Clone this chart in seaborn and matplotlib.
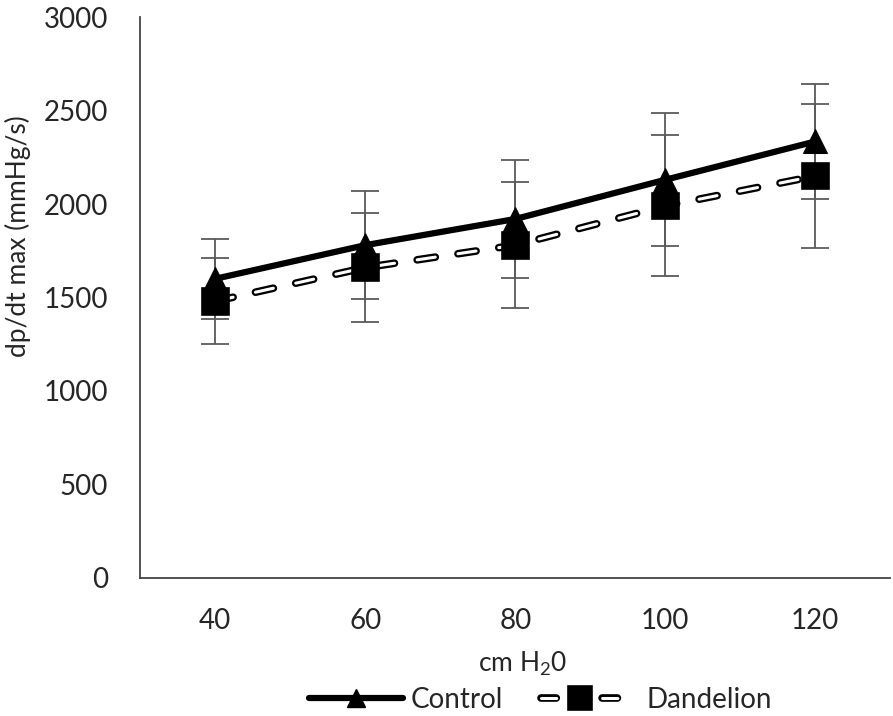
import numpy as np
import pandas as pd
import matplotlib
matplotlib.use("Agg")
import matplotlib.pyplot as plt
import matplotlib.patheffects as pe
from matplotlib.lines import Line2D
import seaborn as sns

# values
pressure = ["40", "60", "80", "100", "120"]
control = [1600, 1780, 1920, 2130, 2335]
control_err = [215, 290, 315, 355, 308]
dandelion = [1480, 1660, 1780, 1990, 2150]
dandelion_err = [230, 290, 337, 377, 385]

df = pd.DataFrame({"pressure": pressure * 2,
                   "value": control + dandelion,
                   "group": ["Control"] * 5 + ["Dandelion"] * 5})

sns.set_theme(style="white")
plt.rcParams['font.family'] = ['Lato', 'DejaVu Sans']

fig = plt.figure(figsize=(8.93, 7.16), dpi=100)
ax = fig.add_axes([0.157, 0.193, 0.84, 0.783])

# error bars first so markers sit on top
ax.errorbar(pressure, control, yerr=control_err, fmt="none", ecolor="#5a5a5a",
            elinewidth=1.3, capsize=10, capthick=1.3, zorder=1)
ax.errorbar(pressure, dandelion, yerr=dandelion_err, fmt="none", ecolor="#5a5a5a",
            elinewidth=1.3, capsize=10, capthick=1.3, zorder=1)

sns.lineplot(data=df[df.group == "Control"], x="pressure", y="value", ax=ax,
             color="black", linewidth=4.5, marker="^", markersize=17,
             markeredgecolor="black", zorder=3, sort=False)
sns.lineplot(data=df[df.group == "Dandelion"], x="pressure", y="value", ax=ax,
             color="white", linewidth=2.2, marker="s", markersize=15,
             markerfacecolor="black", markeredgecolor="black",
             dashes=False, zorder=2, sort=False)
dl = ax.lines[-1]
dl.set_linestyle((0, (6, 7.5)))
dl.set_dash_capstyle("round")
dl.set_path_effects([pe.Stroke(linewidth=5.5, foreground="black"), pe.Normal()])

ax.set_ylim(0, 3000)
ax.set_xlim(-0.5, 4.5)
ax.set_yticks([0, 500, 1000, 1500, 2000, 2500, 3000])
ax.tick_params(axis="y", labelsize=20, length=0, pad=23)
ax.tick_params(axis="x", labelsize=20, length=0, pad=22)
ax.set_xlabel("cm H$_\\mathregular{2}$0", fontsize=19)
ax.set_ylabel("dp/dt max (mmHg/s)", fontsize=19)
ax.xaxis.set_label_coords(0.51, -0.128)
ax.yaxis.set_label_coords(-0.145, 0.61)
for s in ["top", "right"]:
    ax.spines[s].set_visible(False)
for s in ["left", "bottom"]:
    ax.spines[s].set_color("#444444")
    ax.spines[s].set_linewidth(1.3)

h1 = Line2D([], [], color="black", linewidth=4.5, marker="^", markersize=13)
h2 = Line2D([], [], color="white", linewidth=2.2, marker="s", markersize=13,
            markerfacecolor="black", markeredgecolor="black",
            linestyle=(0, (5, 5)), dash_capstyle="round",
            path_effects=[pe.Stroke(linewidth=5.5, foreground="black"), pe.Normal()])
leg1 = fig.legend([h1], ["Control"], loc="center left",
                  bbox_to_anchor=(0.346, 0.023), frameon=False, fontsize=20,
                  handlelength=3.4, handletextpad=0.25, borderpad=0, borderaxespad=0)
leg2 = fig.legend([h2], ["Dandelion"], loc="center left",
                  bbox_to_anchor=(0.606, 0.023), frameon=False, fontsize=20,
                  handlelength=2.8, handletextpad=1.0, borderpad=0, borderaxespad=0)

fig.savefig("out.png", dpi=100)
